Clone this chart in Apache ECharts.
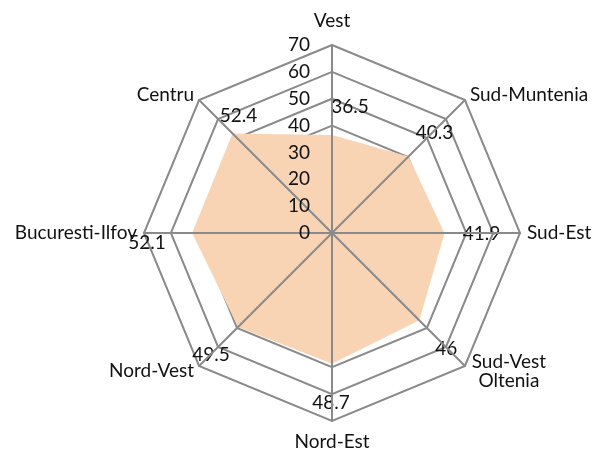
<!DOCTYPE html>
<html>
<head>
<meta charset="utf-8">
<script src="https://cdn.jsdelivr.net/npm/echarts@6/dist/echarts.min.js"></script>
<style>html,body{margin:0;padding:0;background:#fff;}#c{width:595px;height:452px;}</style>
</head>
<body>
<div id="c"></div>
<script>
// Data (indicator order: counter-clockwise starting at top, as ECharts draws radar axes)
var regions = ['Vest', 'Centru', 'Bucuresti-Ilfov', 'Nord-Vest', 'Nord-Est', 'Sud-Vest\nOltenia', 'Sud-Est', 'Sud-Muntenia'];
var values  = [36.5, 52.4, 52.1, 49.5, 48.7, 46, 41.9, 40.3];
var axisMax = 70;
var axisTicks = ['0', '10', '20', '30', '40', '50', '60', '70'];

// Style: label shift (px) of each data label relative to its point
var labelShift = [[18,-28],[6,-18],[-45,10],[-27,28],[-1,39],[27,29],[37,1],[26,-24]];

var FONT = 'Lato';
var FS = 19;
var GRID = '#8a8a8a';

var rich = {};
labelShift.forEach(function (s, i) {
  var dx = s[0], dy = s[1];
  rich['p' + i] = {
    fontFamily: FONT, fontSize: FS, color: '#111',
    padding: [Math.max(0, 2*dy), Math.max(0, -2*dx), Math.max(0, -2*dy), Math.max(0, 2*dx)]
  };
});

var nameRich = {
  up:   { fontFamily: FONT, fontSize: FS, color: '#111', padding: [0, 0, 8, 0] },
  down: { fontFamily: FONT, fontSize: FS, color: '#111', padding: [4, 0, 0, 0] },
  ctr:  { fontFamily: FONT, fontSize: FS, color: '#111', width: 78, align: 'center' },
  n:    { fontFamily: FONT, fontSize: FS, color: '#111' }
};

var chart = echarts.init(document.getElementById('c'));
var common = { center: [332, 233], radius: 188, startAngle: 90, shape: 'polygon', splitNumber: axisTicks.length - 1 };

chart.setOption({
  animation: false,
  radar: [
    Object.assign({}, common, {
      z: 0,
      indicator: regions.map(function (r) { return { name: r, min: 0, max: axisMax }; }),
      axisName: {
        color: '#111', fontFamily: FONT, fontSize: FS,
        formatter: function (name) {
          var i = regions.indexOf(name);
          if (i === 0) return '{up|' + name + '}';
          if (i === 4) return '{down|' + name + '}';
          if (name.indexOf('\n') >= 0) return name.split('\n').map(function (t) { return '{ctr|' + t + '}'; }).join('\n');
          return '{n|' + name + '}';
        },
        rich: nameRich
      },
      nameGap: 7,
      axisLine: { show: false },
      axisTick: { show: false },
      axisLabel: { show: false },
      splitLine: { show: true, lineStyle: { color: GRID, width: 2 } },
      splitArea: { show: false }
    }),
    Object.assign({}, common, {
      z: 5,
      indicator: regions.map(function (r, i) {
        var o = { name: r, min: 0, max: axisMax };
        if (i === 0) o.axisLabel = { show: true };
        return o;
      }),
      axisName: { show: false },
      axisLine: { show: true, lineStyle: { color: GRID, width: 2 } },
      axisTick: { show: false },
      axisLabel: {
        show: false, margin: 22, color: '#111', fontFamily: FONT, fontSize: FS,
        formatter: function (v) { return axisTicks[Math.round(v / 10)]; }
      },
      splitLine: { show: false },
      splitArea: { show: false }
    })
  ],
  series: [{
    type: 'radar',
    radarIndex: 0,
    z: 2,
    symbol: 'circle',
    symbolSize: 2,
    itemStyle: { color: 'rgba(0,0,0,0)', borderWidth: 0 },
    lineStyle: { width: 0, color: 'rgba(0,0,0,0)' },
    areaStyle: { color: '#f9d4b4', opacity: 1 },
    label: {
      show: true,
      position: 'inside',
      align: 'center',
      verticalAlign: 'middle',
      color: '#111',
      opacity: 1,
      formatter: function (p) {
        var i = p.dimensionIndex;
        if (i == null) i = values.indexOf(p.value);
        return '{p' + i + '|' + values[i] + '}';
      },
      rich: rich
    },
    data: [{ value: values, name: 'Regiuni' }]
  }]
});
</script>
</body>
</html>
